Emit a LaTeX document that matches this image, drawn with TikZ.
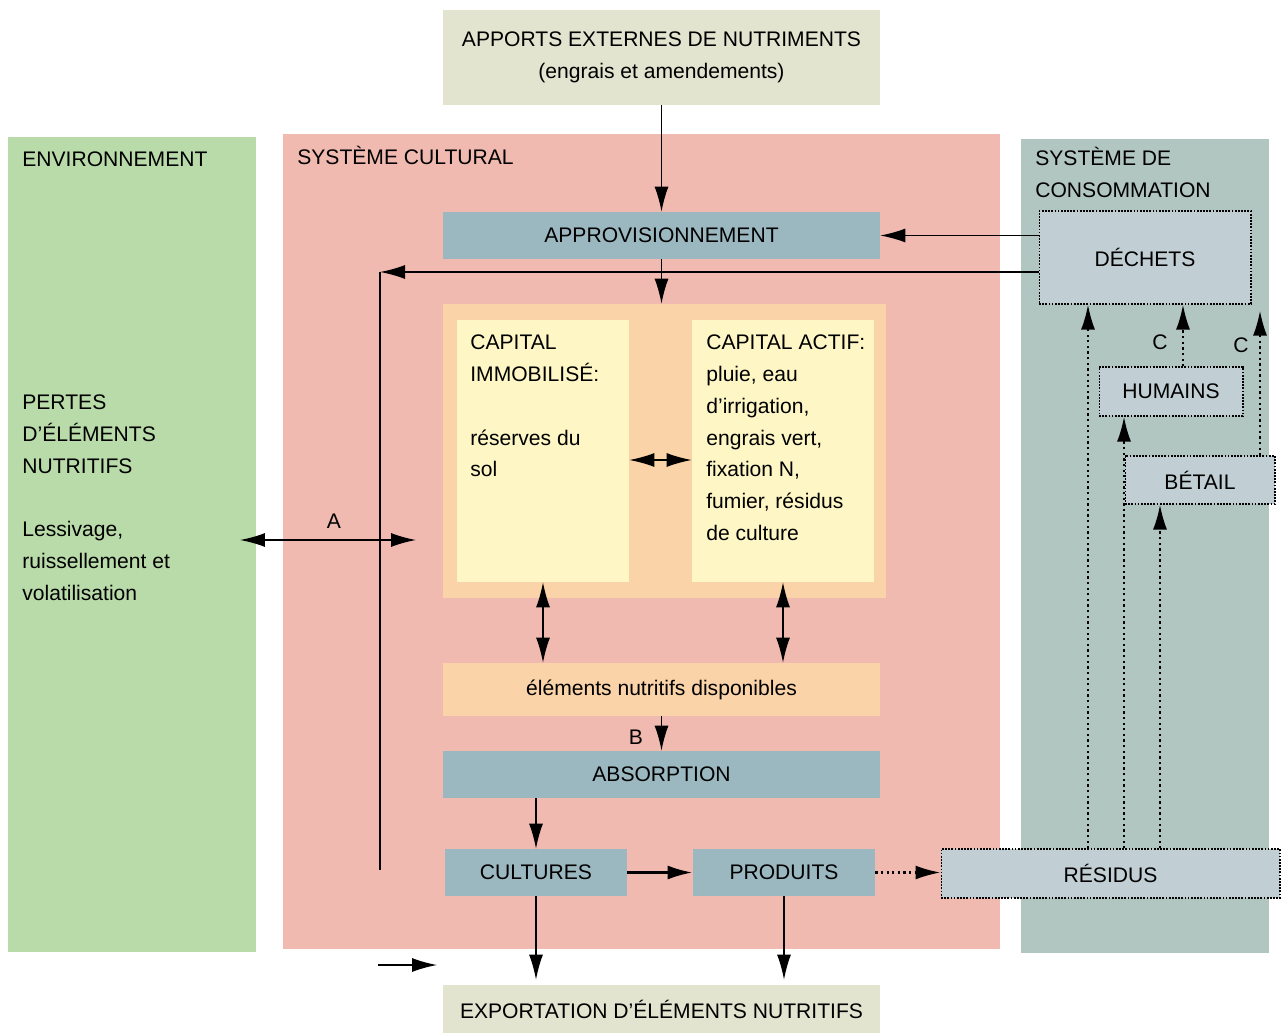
\documentclass[tikz,border=0pt]{standalone}
\usepackage{fontspec}
\setmainfont{Liberation Sans}
\usepackage{xcolor}
\usetikzlibrary{arrows.meta}
\definecolor{beige}{HTML}{E2E4CF}
\definecolor{envgreen}{HTML}{B9DBA9}
\definecolor{cultpink}{HTML}{F0BAB0}
\definecolor{consogrey}{HTML}{B1C5C1}
\definecolor{bluebox}{HTML}{9BB8C1}
\definecolor{peach}{HTML}{FAD3A8}
\definecolor{paleyellow}{HTML}{FEF7C5}
\definecolor{greybox}{HTML}{C1CFD4}

\begin{document}
\begin{tikzpicture}[x=0.02cm, y=-0.02cm, every node/.style={font=\fontsize{12}{18.2}\selectfont},
  zone/.style={fill=#1, inner sep=0},
  box/.style={fill=bluebox, inner sep=0, minimum width=8.74cm, minimum height=0.94cm},
  dbox/.style={fill=greybox, draw, line width=0.6pt, dash pattern=on 1pt off 0.8pt, inner sep=0},
  txt/.style={anchor=north west, inner sep=0, align=left},
  arr/.style={-{Latex[length=0.5cm,width=0.28cm]}, line width=0.8pt},
  darr/.style={{Latex[length=0.5cm,width=0.28cm]}-{Latex[length=0.5cm,width=0.28cm]}, line width=0.8pt},
  dotarr/.style={arr, line width=1.3pt, dash pattern=on 1.3pt off 1.9pt}]
\useasboundingbox (0,0) rectangle (1281,1033);

% les trois systemes
\node[zone=envgreen, minimum width=4.96cm, minimum height=16.3cm] (env) at (132,544.5) {};
\node[zone=cultpink, minimum width=14.34cm, minimum height=16.3cm] (cult) at (641.5,541.5) {};
\node[zone=consogrey, minimum width=4.96cm, minimum height=16.28cm] (conso) at (1145,546) {};
\node[txt] (envlbl) at (22,151) {ENVIRONNEMENT};
\node[txt] (cultlbl) at (297,146) {SYSTÈME CULTURAL};
\node[txt] (consolbl) at (1035,147) {SYSTÈME DE\\CONSOMMATION};
\node[txt] (pertes) at (22,394) {PERTES\\D’ÉLÉMENTS\\NUTRITIFS\\\\Lessivage,\\ruissellement et\\volatilisation};

% entrees et sorties
\node[zone=beige, minimum width=8.74cm, minimum height=1.9cm, align=center] (apports) at (661.5,57.5) {APPORTS EXTERNES DE NUTRIMENTS\\(engrais et amendements)};
\node[zone=beige, minimum width=8.74cm, minimum height=0.96cm] (export) at (661.5,1009) {EXPORTATION D’ÉLÉMENTS NUTRITIFS};

% systeme cultural
\node[box] (approv) at (661.5,235.5) {APPROVISIONNEMENT};
\node[zone=peach, minimum width=8.86cm, minimum height=5.88cm] (capital) at (664.5,451) {};
\node[zone=paleyellow, minimum width=3.44cm, minimum height=5.24cm] (immob) at (543,451) {};
\node[zone=paleyellow, minimum width=3.64cm, minimum height=5.24cm] (actif) at (783,451) {};
\node[txt] (immobtxt) at (470,334) {CAPITAL\\IMMOBILISÉ:\\\\réserves du\\sol};
\node[txt] (actiftxt) at (706,334) {CAPITAL ACTIF:\\pluie, eau\\d’irrigation,\\engrais vert,\\fixation N,\\fumier, résidus\\de culture};
\node[zone=peach, minimum width=8.74cm, minimum height=1.06cm] (dispo) at (661.5,689.5) {éléments nutritifs disponibles};
\node[box] (absorp) at (661.5,774.5) {ABSORPTION};
\node[box, minimum width=3.64cm] (cultures) at (536,872.5) {CULTURES};
\node[box, minimum width=3.64cm] (produits) at (784,872.5) {PRODUITS};

% systeme de consommation
\node[dbox, minimum width=4.24cm, minimum height=1.86cm] (dechets) at (1145,257.5) {DÉCHETS};
\node[dbox, minimum width=2.88cm, minimum height=0.98cm] (humains) at (1171,391.5) {HUMAINS};
\node[dbox, minimum width=3.0cm, minimum height=0.96cm] (betail) at (1200,480) {BÉTAIL};
\node[dbox, minimum width=6.78cm, minimum height=0.98cm] (residus) at (1110.5,873.5) {RÉSIDUS};

\coordinate (ret) at (380,272);
\coordinate (retend) at (380,870);
\coordinate (aL) at (240,540);
\coordinate (aR) at (416,540);
\coordinate (bL) at (378,965);
\coordinate (bR) at (437,965);

\draw[arr] (apports) -- (approv);
\draw[arr] (dechets.west |- approv.east) -- (approv.east);
\draw[arr] (dechets.west |- ret) -- (ret);
\draw[line width=0.8pt] (ret) -- (retend);
\draw[arr] (approv.south) -- (approv.south |- capital.north);
\draw[darr] (aL) -- (aR);
\node (lblA) at (334,521) {A};
\draw[darr] ([yshift=-0.18cm]immob.east) -- ([yshift=-0.18cm]actif.west);
\draw[darr] (immob.south) -- (immob.south |- dispo.north);
\draw[darr] (actif.south) -- (actif.south |- dispo.north);
\draw[arr] (dispo.south) -- (absorp.north);
\node (lblB) at (636,737) {B};
\draw[arr] (absorp.south -| cultures.north) -- (cultures.north);
\draw[arr, line width=1.6pt] (cultures) -- (produits);
\draw[dotarr] (produits.east) -- (produits.east -| residus.west);
\draw[arr] (cultures.south) -- ([yshift=0.1cm]cultures.south |- export.north);
\draw[arr] (produits.south) -- ([yshift=0.1cm]produits.south |- export.north);
\draw[arr] (bL) -- (bR);

\draw[dotarr] (residus.north -| 1088,0) -- (dechets.south -| 1088,0);
\draw[dotarr] (residus.north -| 1124,0) -- (humains.south -| 1124,0);
\draw[dotarr] (residus.north -| 1160,0) -- (betail.south -| 1160,0);
\draw[dotarr] (humains.north -| 1183,0) -- (dechets.south -| 1183,0);
\draw[dotarr] (betail.north -| 1260,0) -- ([yshift=-0.12cm]dechets.south -| 1260,0);
\node (lblC1) at (1160,342) {C};
\node (lblC2) at (1241,345) {C};
\end{tikzpicture}
\end{document}
